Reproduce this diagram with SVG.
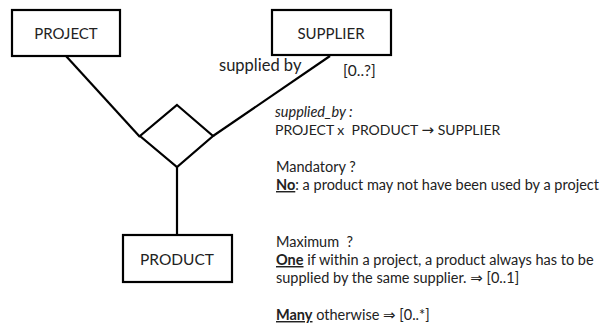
<svg xmlns="http://www.w3.org/2000/svg" width="601" height="330" viewBox="0 0 601 330">
<style>
.box{fill:#fff;stroke:#000;stroke-width:2.2}
.lbl{font-family:Lato,"Liberation Sans",Arial,sans-serif;font-size:15px;fill:#222;text-anchor:middle}
.t{font-family:Lato,"Liberation Sans",Arial,sans-serif;font-size:14.5px;fill:#222}
.conn{stroke:#000;stroke-width:2.2;fill:none}
.u{font-weight:bold;text-decoration:underline}
.ar{font-family:"DejaVu Sans",sans-serif;font-size:15px}
</style>
<rect width="601" height="330" fill="#fff"/>
<g id="connectors">
<line class="conn" x1="66" y1="56" x2="140" y2="137"/>
<line class="conn" x1="330" y1="56" x2="213" y2="136"/>
<line class="conn" x1="177" y1="167" x2="177" y2="235"/>
</g>
<g id="project">
<rect class="box" x="12" y="10" width="108" height="46"/>
<text class="lbl" x="66" y="39">PROJECT</text>
</g>
<g id="supplier">
<rect class="box" x="272" y="10" width="119" height="45"/>
<text class="lbl" x="331" y="39">SUPPLIER</text>
</g>
<g id="supplied_by">
<polygon class="box" points="177,105 213,136 177,167 140,136"/>
</g>
<g id="product">
<rect class="box" x="123" y="235" width="109" height="47"/>
<text class="lbl" x="177" y="265" style="font-size:15.5px">PRODUCT</text>
</g>
<g id="labels">
<text class="t" x="219" y="71" style="font-size:16.5px">supplied by</text>
<text class="t" x="343" y="76" style="font-size:15.5px">[0..?]</text>
<text class="t" x="275" y="117" font-style="italic">supplied_by :</text>
<text class="t" x="275" y="135" style="font-size:14px;white-space:pre">PROJECT x  PRODUCT <tspan class="ar">→</tspan> SUPPLIER</text>
<text class="t" x="276" y="172">Mandatory ?</text>
<text class="t" x="276" y="190"><tspan class="u">No</tspan>: a product may not have been used by a project</text>
<text class="t" x="276" y="247" style="white-space:pre">Maximum  ?</text>
<text class="t" x="276" y="265"><tspan class="u">One</tspan> if within a project, a product always has to be</text>
<text class="t" x="276" y="283">supplied by the same supplier. <tspan class="ar">⇒</tspan> [0..1]</text>
<text class="t" x="276" y="320"><tspan class="u">Many</tspan> otherwise <tspan class="ar">⇒</tspan> [0..*]</text>
</g>
</svg>
